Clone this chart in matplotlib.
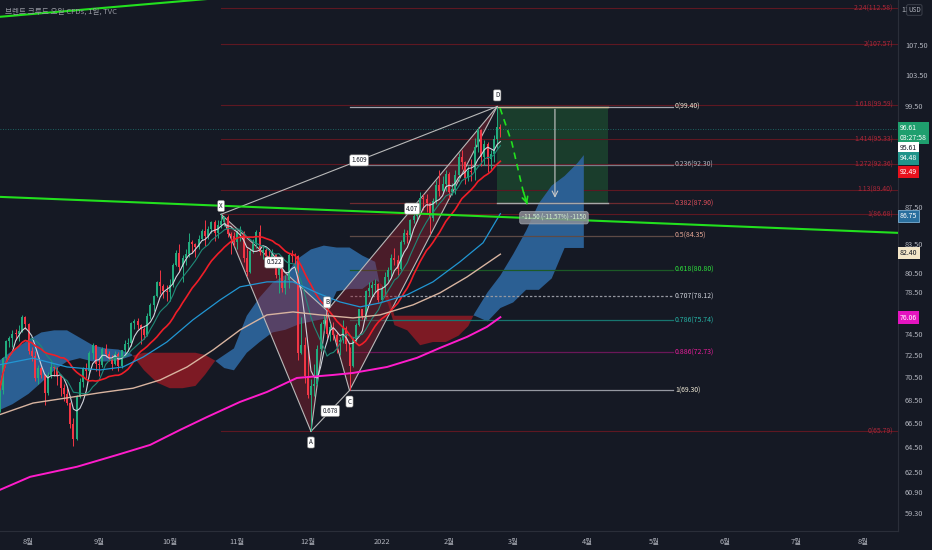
import numpy as np
import pandas as pd
import matplotlib
matplotlib.use('Agg')
import matplotlib.pyplot as plt
from matplotlib.patches import Polygon, Rectangle

# ---------------- daily candles (weekdays 2021-07-20 .. 2022-02-23) ----------------
first_open = 68.70
close_jul = [69.35, 72.23, 73.79, 74.10, 74.50, 74.48, 74.74, 76.05, 75.40]
close_aug = [72.89, 72.41, 70.38, 71.29, 70.70, 69.04, 70.63, 71.44, 71.31, 70.59, 69.51,
             69.03, 68.23, 66.45, 65.18, 68.75, 70.05, 71.25, 71.07, 72.70, 73.41, 71.63]
close_sep = [71.59, 73.03, 72.61, 72.22, 71.69, 72.60, 71.45, 72.92, 73.51, 73.60, 75.46,
             75.67, 75.34, 74.92, 74.36, 76.19, 77.25, 78.09, 79.53, 79.09, 78.64, 78.52]
close_oct = [79.28, 81.26, 82.56, 81.08, 81.95, 82.39, 83.65, 83.42, 83.18, 84.00, 84.86,
             84.33, 85.08, 85.82, 84.61, 85.53, 85.99, 86.40, 84.58, 84.32, 83.72]
close_nov = [84.71, 84.72, 81.99, 80.54, 82.74, 83.43, 84.78, 82.64, 82.87, 82.17, 82.05,
             82.43, 80.28, 81.24, 78.89, 79.70, 82.31, 82.25, 82.22, 72.72, 73.44, 70.57]
close_dec = [68.87, 69.67, 69.88, 73.08, 75.44, 75.82, 74.42, 75.15, 74.39, 73.70, 73.88,
             75.02, 73.52, 71.52, 73.98, 75.29, 76.85, 76.14, 78.60, 78.94, 79.23, 79.32, 77.78]
close_jan = [78.98, 80.00, 80.80, 81.99, 81.75, 80.87, 83.72, 84.67, 84.47, 86.06, 86.48,
             87.51, 88.44, 88.38, 87.89, 86.27, 88.20, 89.96, 89.34, 90.03, 91.21]
close_feb = [89.16, 89.47, 91.11, 93.27, 92.69, 90.78, 91.55, 91.41, 94.44, 96.48, 93.28,
             94.81, 92.97, 93.54, 95.39, 96.84, 96.61]

high_jul = [69.7, 72.3, 73.9, 74.3, 74.8, 74.9, 75.3, 76.3, 76.2]
high_aug = [75.5, 73.2, 72.9, 71.6, 71.5, 70.8, 70.9, 71.9, 71.6, 71.4, 70.5,
            69.9, 69.5, 68.3, 66.9, 68.9, 70.4, 71.4, 71.8, 72.9, 73.6, 73.1]
high_sep = [72.2, 73.2, 73.5, 72.9, 72.5, 72.9, 72.8, 73.0, 73.9, 74.1, 75.6,
            75.9, 76.0, 75.4, 75.1, 76.5, 77.4, 78.2, 79.6, 80.8, 79.3, 79.2]
high_oct = [79.8, 81.5, 82.8, 83.5, 82.3, 82.9, 84.6, 83.9, 83.6, 84.4, 85.1,
            86.0, 85.4, 85.9, 86.1, 86.0, 86.68, 86.5, 86.6, 84.8, 84.8]
high_nov = [85.0, 85.4, 84.9, 83.1, 82.9, 84.0, 85.0, 85.5, 83.3, 83.1, 82.8,
            82.9, 82.4, 81.6, 81.1, 80.2, 82.5, 82.8, 82.5, 82.3, 76.1, 74.2]
high_dec = [73.3, 70.3, 71.7, 73.4, 75.6, 76.3, 76.69, 75.5, 75.6, 74.6, 74.2,
            75.8, 75.2, 73.2, 74.2, 75.5, 76.9, 76.9, 78.7, 79.5, 79.6, 79.8, 79.4]
high_jan = [79.1, 80.6, 81.1, 82.4, 83.0, 82.3, 83.9, 85.1, 85.0, 86.2, 86.7,
            88.1, 89.2, 89.0, 88.9, 88.0, 88.5, 90.5, 91.7, 91.0, 91.7]
high_feb = [91.5, 90.2, 91.7, 93.7, 94.0, 92.8, 92.2, 93.0, 95.5, 96.8, 96.6,
            95.2, 95.0, 94.0, 95.9, 99.40, 97.2]

low_jul = [67.4, 69.0, 71.9, 73.2, 73.2, 73.9, 73.8, 74.6, 74.9]
low_aug = [72.6, 71.9, 70.1, 69.9, 70.4, 68.0, 68.9, 70.4, 70.6, 69.8, 68.8,
           68.4, 68.0, 66.1, 64.6, 65.1, 68.6, 69.6, 70.4, 70.8, 72.1, 71.0]
low_sep = [70.6, 71.4, 72.3, 71.9, 71.1, 71.6, 71.0, 71.3, 72.4, 72.9, 73.3,
           74.9, 74.9, 73.5, 74.0, 74.3, 75.9, 76.7, 78.0, 78.3, 77.9, 77.6]
low_oct = [77.6, 79.0, 81.2, 80.6, 79.5, 81.3, 82.1, 82.5, 82.1, 82.9, 83.9,
           83.3, 84.0, 84.6, 83.8, 84.1, 85.2, 85.4, 84.2, 82.4, 83.3]
low_nov = [82.9, 83.8, 81.6, 80.1, 80.5, 82.5, 83.1, 82.3, 81.9, 81.6, 81.7,
           81.1, 79.9, 78.4, 78.5, 78.3, 78.9, 81.6, 81.4, 72.0, 72.6, 70.0]
low_dec = [68.6, 65.79, 68.8, 69.8, 72.9, 74.7, 74.1, 73.8, 73.9, 72.7, 72.5,
           73.6, 72.9, 69.30, 71.4, 73.7, 75.2, 75.9, 75.9, 78.1, 78.0, 78.5, 77.5]
low_jan = [77.6, 78.2, 79.6, 79.9, 81.3, 80.2, 80.8, 83.5, 83.6, 83.9, 85.7,
           85.9, 87.0, 87.1, 86.9, 84.5, 85.9, 87.8, 88.7, 89.1, 89.3]
low_feb = [88.4, 88.8, 88.9, 90.4, 91.8, 90.1, 90.4, 90.4, 90.5, 93.8, 92.2,
           92.3, 91.5, 91.8, 92.6, 94.3, 95.6]

# ---------------- long moving averages (bar index, price) ----------------
ma50_x = [-9, 1.4, 12, 22.3, 29.4, 35.7, 43.1, 51.2, 59.7, 65.9, 74.3, 82.4, 89.9, 97, 103.3, 109.5, 117.9, 126, 134.4, 141.6, 147]
ma50_p = [71.6, 72.2, 71.4, 71.13, 71.4, 72.3, 73.7, 75.8, 77.75, 79.05, 79.55, 79.55, 78.45, 77.55, 77.06, 77.45, 78.25, 79.55, 81.6, 83.6, 86.75]
ma100_x = [-9, 1.4, 12, 22.3, 32.6, 41, 49.4, 57.5, 65.9, 74.3, 82.4, 90.8, 101.1, 109.5, 119.8, 128.2, 136.6, 147]
ma100_p = [67.2, 68.2, 68.65, 69.1, 69.5, 70.23, 71.4, 72.96, 74.84, 76.28, 76.57, 76.28, 75.99, 76.28, 77.26, 78.45, 80.05, 82.40]
ma200_x = [-9, 0.5, 15.1, 27.6, 37.9, 47.2, 55.6, 65.9, 74.3, 83.6, 94.9, 101.1, 111.7, 121, 128.2, 136.6, 142.8, 147]
ma200_p = [61.07, 62.1, 62.9, 63.85, 64.67, 65.91, 67.0, 68.3, 69.17, 70.41, 70.68, 70.86, 71.4, 72.23, 73.15, 74.18, 75.13, 76.06]

# ---------------- ichimoku cloud (span A / span B) ----------------
cloud_x = [-9, -5, 0, 4, 8, 12, 16, 20, 24, 28, 32, 36, 40, 44, 48, 52, 55, 58, 61, 64,
           68, 72, 76, 80, 84, 88, 92, 96, 100, 104, 108, 110, 112, 114, 118, 122, 126,
           130, 134, 137, 139, 143, 147, 151, 155, 159, 163, 167, 171, 173]
span_a = [72.0, 72.9, 73.9, 74.6, 74.8, 74.8, 74.1, 73.4, 73.1, 73.0, 72.6, 71.1, 70.0, 69.5,
          69.5, 69.7, 70.7, 71.9, 72.5, 73.1, 76.2, 78.0, 79.45, 80.25, 81.95, 82.9, 83.3,
          83.1, 83.1, 82.25, 81.6, 78.4, 77.4, 75.3, 74.8, 73.4, 73.7, 73.7, 74.3, 75.2, 76.45,
          78.5, 80.2, 82.4, 84.87, 87.9, 89.9, 91.0, 92.5, 93.45]
span_b = [67.6, 68.1, 69.0, 70.0, 71.1, 71.9, 72.2, 71.9, 71.9, 72.0, 72.4, 72.7, 72.7, 72.7,
          72.7, 72.7, 72.5, 72.0, 71.3, 71.1, 72.7, 73.7, 74.6, 74.85, 75.35, 75.64, 75.9,
          78.6, 78.84, 78.84, 79.8, 79.3, 78.34, 76.2, 76.2, 76.2, 76.2, 76.2, 76.2, 76.2, 76.2,
          75.65, 76.95, 77.5, 78.75, 78.75, 79.9, 83.05, 83.05, 83.05]

# ---------------- XABCD pattern ----------------
pat_names = ['X', 'A', 'B', 'C', 'D']
pat_x = [60, 88, 93, 100, 146]
pat_p = [86.68, 65.79, 76.69, 69.30, 99.40]
ratio_xb, ratio_ac, ratio_bd, ratio_xd = '0.522', '0.678', '4.07', '1.609'

retr_levels = [0, 0.236, 0.382, 0.5, 0.618, 0.707, 0.786, 0.886, 1]
retr_line = ['#a3a6af', '#787b86', '#6e2b30', '#5d4a46', '#1c5a26', '#9598a1', '#17756f', '#6a1758', '#9598a1']
retr_text = ['#f0ead6', '#b2b5be', '#e0505c', '#e8a896', '#2ee53c', '#d1d4dc', '#26b5a8', '#e91e9c', '#f0ead6']
ext_levels = [0, 1, 1.13, 1.272, 1.414, 1.618, 2, 2.24]

# trend lines (bar index, price)
trend_x = [-8.9, 270.9]
trend_p = [88.62, 84.66]
trend2_x = [-8.9, 72]
trend2_p = [111.4, 114.6]

# projection arrow and short position
proj_x = [146.9, 150.6, 154.0, 155.6]
proj_p = [99.2, 94.9, 89.4, 87.5]
pos_x0, pos_x1, pos_mid = 146, 180.5, 164
pos_entry, pos_target = 99.40, 87.90
pos_text = '-11.50 (-11.57%) -1150'

last_price = 96.61
month_names = {1: '2022', 2: '2월', 3: '3월', 4: '4월', 5: '5월', 6: '6월', 7: '7월',
               8: '8월', 9: '9월', 10: '10월', 11: '11월', 12: '12월'}
yticks = [59.3, 60.9, 62.5, 64.5, 66.5, 68.5, 70.5, 72.5, 74.5, 78.5, 80.5, 83.5, 87.5, 99.5, 103.5, 107.5]

BG = '#151924'
GREEN = '#22ab7e'
RED = '#f23645'
W, H = 932, 550
PLOT_W, PLOT_H = 898, 531
BAR_PX = 3.21


def main():
    plt.rcParams['font.family'] = ['Noto Sans CJK KR', 'DejaVu Sans']

    close = np.array(close_jul + close_aug + close_sep + close_oct + close_nov + close_dec + close_jan + close_feb)
    high = np.array(high_jul + high_aug + high_sep + high_oct + high_nov + high_dec + high_jan + high_feb)
    low = np.array(low_jul + low_aug + low_sep + low_oct + low_nov + low_dec + low_jan + low_feb)
    opn = np.concatenate([[first_open], close[:-1]])

    dates = pd.bdate_range('2021-07-20', '2022-02-23')
    base = dates.get_loc(pd.Timestamp('2021-08-02'))
    x = np.arange(len(dates)) - base

    fig = plt.figure(figsize=(W / 100, H / 100), dpi=100, facecolor=BG)
    ax = fig.add_axes([0, (H - PLOT_H) / H, PLOT_W / W, PLOT_H / H])
    ax.set_facecolor(BG)
    ax.set_yscale('log')
    x_left = -28.5 / BAR_PX
    x_right = x_left + PLOT_W / BAR_PX
    ax.set_xlim(x_left, x_right)
    ax.set_ylim(57.97, 113.8)

    # ichimoku cloud
    ca, cb = np.array(span_a), np.array(span_b)
    ax.fill_between(cloud_x, ca, cb, where=ca >= cb, interpolate=True, color='#2b5f93', lw=0, zorder=1)
    ax.fill_between(cloud_x, ca, cb, where=ca < cb, interpolate=True, color='#7d1a24', lw=0, zorder=1)

    # short position box
    ax.add_patch(Rectangle((pos_x0, pos_target), pos_x1 - pos_x0, pos_entry - pos_target,
                           facecolor='#1a3d2c', edgecolor='none', zorder=0.8))
    ax.plot([pos_x0, pos_x1], [pos_entry, pos_entry], color='#cbbd9d', lw=1.0, zorder=2)
    ax.plot([pos_x0, pos_x1], [pos_target, pos_target], color='#a8a8a8', lw=1.0, zorder=2)
    ax.annotate('', xy=(pos_mid, pos_target + 0.3), xytext=(pos_mid, pos_entry),
                arrowprops=dict(arrowstyle='->', color='#c8c8c8', lw=0.8), zorder=2)

    # fib extension A -> X
    xa, aa = pat_p[0], pat_p[1]
    for lv in ext_levels:
        p = aa + lv * (xa - aa)
        ax.plot([pat_x[0], x_right], [p, p], color='#5e1822', lw=0.8, zorder=0.9)
        ax.text(x_left + 893 / BAR_PX, p, '{:g}({:.2f})'.format(lv, p), color='#a8283a',
                fontsize=5, ha='right', va='center', zorder=3)

    # fib retracement D -> C
    dd, cc = pat_p[4], pat_p[3]
    for lv, lc, tc in zip(retr_levels, retr_line, retr_text):
        p = dd - lv * (dd - cc)
        ls = (0, (2, 1.5)) if lv == 0.707 else '-'
        ax.plot([pat_x[3], 200.8], [p, p], color=lc, lw=0.9, ls=ls, zorder=1.1)
        ax.text(201.4, p, '{:g}({:.2f})'.format(lv, p), color=tc, fontsize=5, ha='left', va='center', zorder=3)

    # trend lines
    ax.plot(trend_x, trend_p, color='#22e01e', lw=1.5, zorder=6)
    ax.plot(trend2_x, trend2_p, color='#22e01e', lw=1.5, zorder=6)

    # current price line
    ax.axhline(last_price, color='#26a69a', lw=0.6, ls=(0, (1, 2)), alpha=0.7, zorder=0.9)

    # harmonic pattern
    px_, pp_ = pat_x, pat_p
    for tri in ([0, 1, 2], [2, 3, 4]):
        ax.add_patch(Polygon([(px_[i], pp_[i]) for i in tri], closed=True, facecolor='#8c2030',
                             alpha=0.45, edgecolor='none', zorder=1.5))
    for a, b in [(0, 1), (1, 2), (2, 3), (3, 4), (0, 2), (2, 4), (0, 4), (1, 3)]:
        ax.plot([px_[a], px_[b]], [pp_[a], pp_[b]], color='#b9b9b9', lw=0.8, zorder=2.5)
    box = dict(boxstyle='round,pad=0.25', fc='white', ec='#888888', lw=0.4)
    offs = [(0, 6), (0, -8), (0, 6), (0, -8), (0, 8)]
    for nm, xx, yy, off in zip(pat_names, px_, pp_, offs):
        ax.annotate(nm, (xx, yy), xytext=off, textcoords='offset points', ha='center', va='center',
                    fontsize=4.5, color='#131722', bbox=box, zorder=8)
    for (a, b), txt in zip([(0, 2), (1, 3), (2, 4), (0, 4)], [ratio_xb, ratio_ac, ratio_bd, ratio_xd]):
        mx = (px_[a] + px_[b]) / 2
        my = np.sqrt(pp_[a] * pp_[b])
        ax.text(mx, my, txt, ha='center', va='center', fontsize=4.5, color='#131722', bbox=box, zorder=8)

    # candles
    up = close >= opn
    col = np.where(up, GREEN, RED)
    ax.vlines(x, low, high, colors=col, lw=0.7, zorder=4)
    ax.bar(x, np.maximum(np.abs(close - opn), 0.05), bottom=np.minimum(opn, close), width=0.62,
           color=col, lw=0, zorder=4.5)

    # moving averages
    cs = pd.Series(close)
    ax.plot(x, cs.rolling(5, min_periods=1).mean(), color='#d1d4dc', lw=0.8, zorder=5)
    ax.plot(x, cs.rolling(10, min_periods=1).mean(), color='#1f8a78', lw=0.8, zorder=5)
    ax.plot(x, cs.rolling(20, min_periods=1).mean(), color='#f01e28', lw=1.2, zorder=5)
    ax.plot(ma50_x, ma50_p, color='#2196d3', lw=0.9, zorder=5)
    ax.plot(ma100_x, ma100_p, color='#d8b4a0', lw=1.0, zorder=5)
    ax.plot(ma200_x, ma200_p, color='#ff1ccb', lw=1.4, zorder=5)

    # projection arrow
    ax.plot(proj_x, proj_p, color='#22e01e', lw=1.2, ls=(0, (4, 3)), zorder=6)
    ax.annotate('', xy=(proj_x[-1], proj_p[-1]), xytext=(proj_x[-2], proj_p[-2]),
                arrowprops=dict(arrowstyle='->', color='#22e01e', lw=1.2), zorder=6)
    ax.text(163.7, 86.3, pos_text, ha='center', va='center', fontsize=4.5, color='#d8f5d0',
            bbox=dict(boxstyle='round,pad=0.35', fc='#8a8d96', ec='#b0b3ba', lw=0.5, alpha=0.85), zorder=7)

    # axes styling
    for s in ['top', 'left']:
        ax.spines[s].set_visible(False)
    ax.spines['right'].set_color('#2a2e39')
    ax.spines['bottom'].set_color('#2a2e39')
    ax.yaxis.tick_right()
    ax.yaxis.set_minor_locator(plt.NullLocator())
    ax.yaxis.set_minor_formatter(plt.NullFormatter())
    ax.set_yticks(yticks)
    ax.set_yticklabels(['{:.2f}'.format(v) for v in yticks])
    ax.tick_params(axis='y', length=0, pad=5, labelsize=5.3, colors='#b2b5be')

    full = pd.bdate_range('2021-07-20', '2022-08-31')
    fpos = np.arange(len(full)) - base
    first = np.r_[False, full.month[1:] != full.month[:-1]]
    ax.set_xticks(fpos[first])
    ax.set_xticklabels([month_names[m] for m in full.month[first]])
    ax.tick_params(axis='x', length=0, pad=5, labelsize=5.3, colors='#b2b5be')

    # header
    fig.text(5 / W, 1 - 12 / H, '브렌트 크루드 오일 CFDs, 1일, TVC', color='#9598a1', fontsize=5.5,
             ha='left', va='center')

    # right axis price boxes
    def pbox(yc, txt, fc, tc='white', ec='none'):
        fig.text(900 / W, 1 - yc / H, txt, ha='left', va='center', fontsize=5, color=tc,
                 linespacing=1.3, bbox=dict(boxstyle='square,pad=0.3', fc=fc, ec=ec, lw=0.5))

    fig.text(901 / W, 1 - 10 / H, '11', ha='left', va='center', fontsize=5, color='#b2b5be')
    fig.text(908 / W, 1 - 10 / H, 'USD', ha='left', va='center', fontsize=4.5, color='#b2b5be',
             bbox=dict(boxstyle='round,pad=0.2', fc=BG, ec='#4a4e59', lw=0.5))
    pbox(133, '96.61\n03:27:58', '#1f9f6e')
    pbox(148.5, '95.61', '#ffffff', tc='#131722')
    pbox(158.5, '94.48', '#20938a')
    pbox(172, '92.49', '#e8111d')
    pbox(216, '86.75', '#2a6f9e', ec='#8ec5ea')
    pbox(253, '82.40', '#f3e6c8', tc='#131722')
    pbox(317.5, '76.06', '#e514c0')

    fig.savefig('out.png', dpi=100, facecolor=BG)


main()
